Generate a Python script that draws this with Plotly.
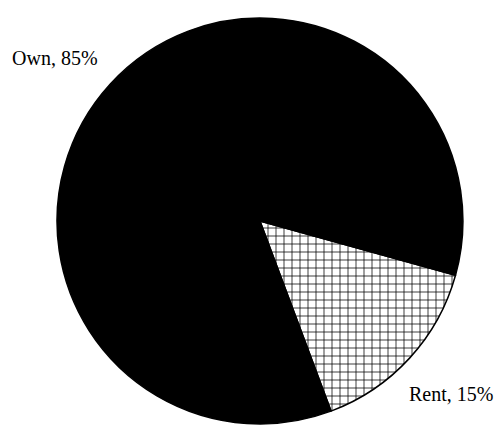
import plotly.graph_objects as go

labels = ["Rent", "Own"]
values = [15, 85]

fig = go.Figure(
    go.Pie(
        labels=labels,
        values=values,
        sort=False,
        direction="clockwise",
        rotation=105.5,
        textinfo="none",
        hoverinfo="label+percent",
        marker=dict(
            colors=["white", "black"],
            line=dict(color="black", width=1.5),
            pattern=dict(shape=["+", ""], fgcolor="black", bgcolor="white",
                         size=8, solidity=0.18),
        ),
        domain=dict(x=[0.099, 0.919], y=[0.0048, 0.976]),
        showlegend=False,
    )
)

# label positions (paper coords) for each slice
label_pos = {"Own": (0.095, 0.880), "Rent": (0.895, 0.0766)}
for lab, val in zip(labels, values):
    x, y = label_pos[lab]
    fig.add_annotation(x=x, y=y, xref="paper", yref="paper", showarrow=False,
                       xanchor="center", yanchor="middle",
                       text=f"{lab}, {val}%",
                       font=dict(family="Liberation Serif", size=20, color="black"))

# slightly smaller than the window so the page body margin doesn't clip it
fig.update_layout(width=495, height=418, margin=dict(l=0, r=0, t=0, b=0),
                  paper_bgcolor="white", plot_bgcolor="white")
fig.write_html("out.html")
